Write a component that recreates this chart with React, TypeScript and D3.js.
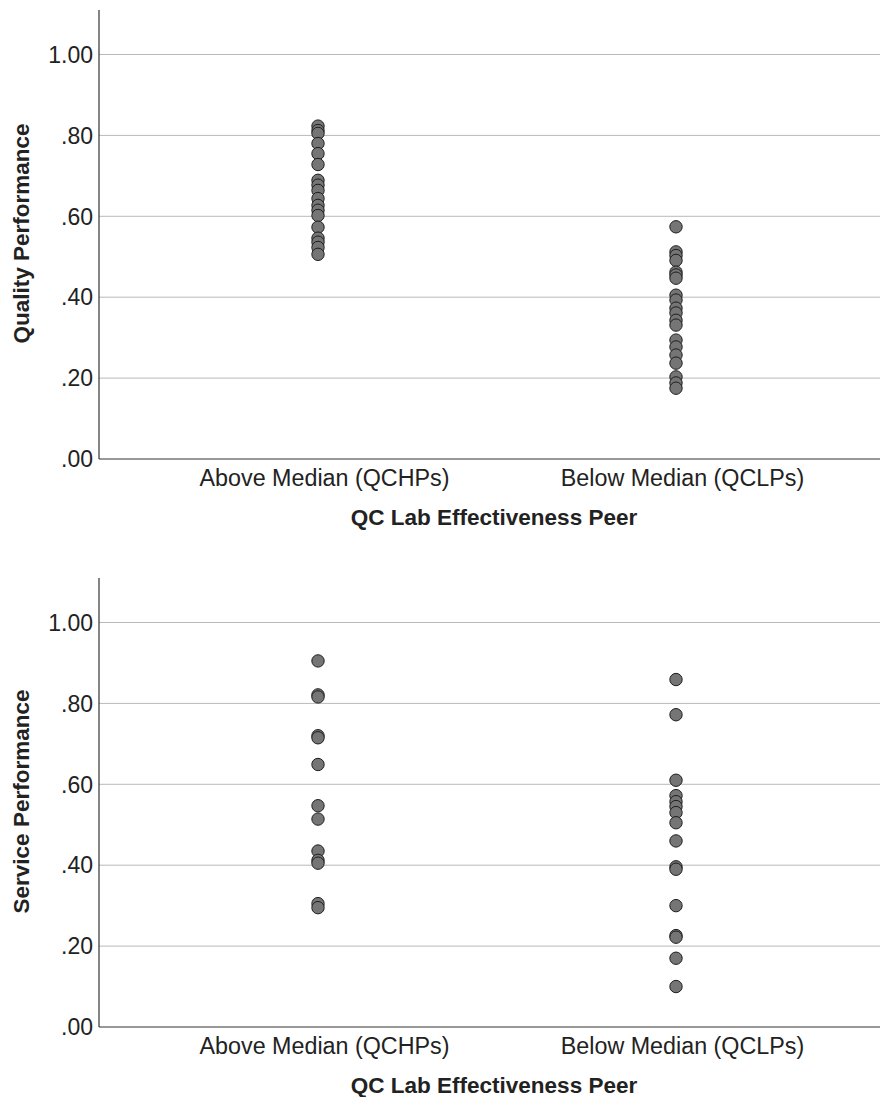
import React from "react";
import * as d3 from "d3";

// Groups along the x axis
const groups = ["Above Median (QCHPs)", "Below Median (QCLPs)"];

// Quality performance scores per group
const qualityAbove = [0.823, 0.812, 0.805, 0.78, 0.755, 0.728, 0.689, 0.677, 0.664, 0.644, 0.627, 0.615, 0.602, 0.573, 0.546, 0.536, 0.523, 0.506];
const qualityBelow = [0.574, 0.512, 0.503, 0.491, 0.462, 0.455, 0.447, 0.405, 0.393, 0.373, 0.361, 0.343, 0.331, 0.294, 0.277, 0.257, 0.237, 0.203, 0.188, 0.175];

// Service performance scores per group
const serviceAbove = [0.905, 0.821, 0.816, 0.72, 0.715, 0.649, 0.547, 0.514, 0.435, 0.412, 0.405, 0.305, 0.295];
const serviceBelow = [0.859, 0.772, 0.61, 0.572, 0.557, 0.545, 0.53, 0.505, 0.46, 0.396, 0.39, 0.3, 0.226, 0.222, 0.17, 0.1];

const yTicks = [0, 0.2, 0.4, 0.6, 0.8, 1.0];
const fmtTick = (v: number) => (v === 1 ? "1.00" : d3.format(".2f")(v).replace(/^0/, ""));

const xTitle = "QC Lab Effectiveness Peer";

const FONT = "'Liberation Sans', Arial, sans-serif";

type PanelProps = {
  top: number;
  bottom: number;
  yTitle: string;
  series: number[][];
};

function Panel({ top, bottom, yTitle, series }: PanelProps) {
  const left = 99;
  const right = 880;
  const y = d3.scaleLinear().domain([0, 1.11]).range([bottom, top]);
  const x = d3.scalePoint<string>().domain(groups).range([318, 676]);
  return (
    <g>
      {yTicks.map((t) =>
        t > 0 ? (
          <line key={"g" + t} x1={left} x2={right} y1={y(t)} y2={y(t)} stroke="#b9b9b9" strokeWidth={1} />
        ) : null
      )}
      {yTicks.map((t) => (
        <text
          key={"t" + t}
          x={left - 6}
          y={y(t)}
          dy="0.36em"
          textAnchor="end"
          fontFamily={FONT}
          fontSize={23}
          fill="#222"
        >
          {fmtTick(t)}
        </text>
      ))}
      <line x1={left} x2={left} y1={top} y2={bottom} stroke="#333" strokeWidth={1.2} />
      <line x1={left} x2={right} y1={bottom} y2={bottom} stroke="#333" strokeWidth={1.2} />
      {groups.map((g, i) =>
        series[i].map((v, j) => (
          <circle key={g + j} cx={x(g)} cy={y(v)} r={6.2} fill="#757575" stroke="#1e1e1e" strokeWidth={1} />
        ))
      )}
      {groups.map((g) => (
        <text key={g} x={x(g)! + 6.5} y={bottom + 27} textAnchor="middle" fontFamily={FONT} fontSize={23.3} fill="#222">
          {g}
        </text>
      ))}
      <text
        x={(x(groups[0])! + x(groups[1])!) / 2 - 3}
        y={bottom + 65.5}
        textAnchor="middle"
        fontFamily={FONT}
        fontSize={22.5}
        fontWeight="bold"
        fill="#222"
      >
        {xTitle}
      </text>
      <text
        transform={`translate(29, ${(top + bottom) / 2 - 1}) rotate(-90)`}
        textAnchor="middle"
        fontFamily={FONT}
        fontSize={22.5}
        fontWeight="bold"
        fill="#222"
      >
        {yTitle}
      </text>
    </g>
  );
}

export default function App() {
  return (
    <svg
      width={883}
      height={1097}
      style={{ position: "absolute", left: 0, top: 0, background: "#fff" }}
    >
      <rect width={883} height={1097} fill="#fff" />
      <Panel top={10} bottom={459} yTitle="Quality Performance" series={[qualityAbove, qualityBelow]} />
      <Panel top={578} bottom={1027} yTitle="Service Performance" series={[serviceAbove, serviceBelow]} />
    </svg>
  );
}
